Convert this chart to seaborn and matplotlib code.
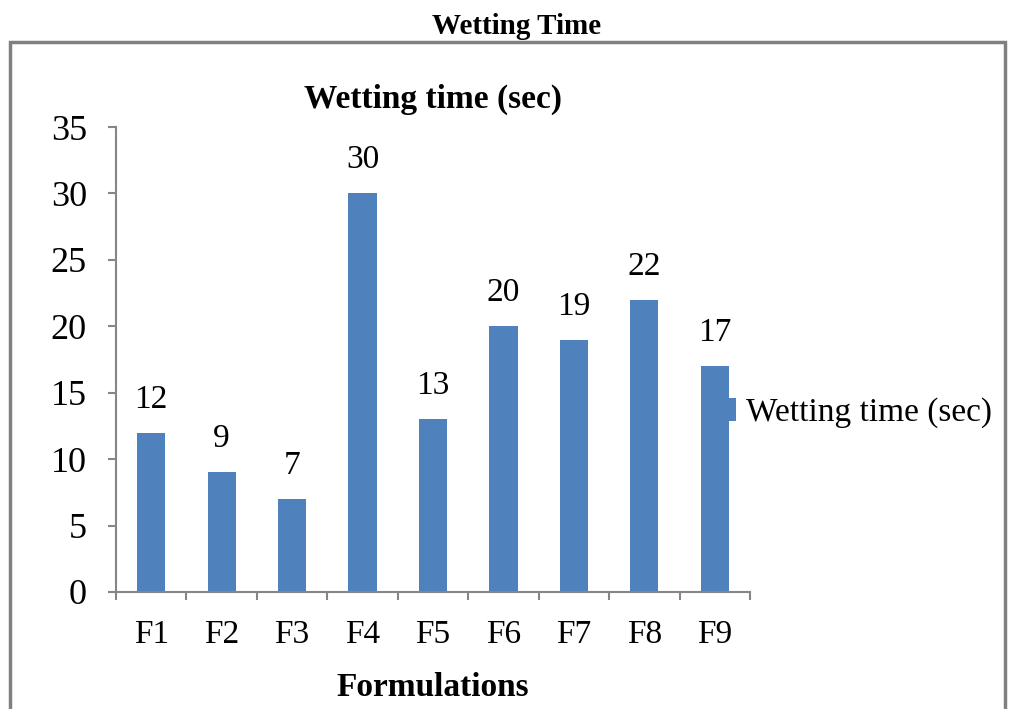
import matplotlib
matplotlib.use("Agg")
import matplotlib.pyplot as plt
from matplotlib.patches import Rectangle
import seaborn as sns

formulations = ["F1", "F2", "F3", "F4", "F5", "F6", "F7", "F8", "F9"]
wetting_time = [12, 9, 7, 30, 13, 20, 19, 22, 17]
y_ticks = [0, 5, 10, 15, 20, 25, 30, 35]

sns.set_theme(style="white")
plt.rcParams["font.family"] = ["Liberation Serif", "DejaVu Serif"]
plt.rcParams["text.color"] = "black"
plt.rcParams["axes.labelcolor"] = "black"
plt.rcParams["xtick.labelcolor"] = "black"
plt.rcParams["ytick.labelcolor"] = "black"

bar_color = "#4F81BD"
axis_color = "#868686"

fig = plt.figure(figsize=(10.10, 7.09), dpi=100)
fig.patch.set_facecolor("white")

# outer frame of the chart area
frame = Rectangle((10 / 1010, -0.2), 995 / 1010, 1.2 - 42 / 709,
                  transform=fig.transFigure, fill=False,
                  edgecolor="#808080", linewidth=2.5)
fig.patches.append(frame)

fig.text(517 / 1010, 1 - 27 / 709, "Wetting Time", ha="center", va="center",
         fontsize=21, fontweight="bold", color="black")

ax = fig.add_axes([116 / 1010, 117 / 709, 634 / 1010, 465 / 709])
sns.barplot(x=formulations, y=wetting_time, color=bar_color, width=0.4,
            saturation=1, linewidth=0, label="Wetting time (sec)", ax=ax)

ax.set_ylim(0, 35)
ax.set_xlim(-0.5, len(formulations) - 0.5)
ax.set_yticks(y_ticks)
ax.set_yticklabels([str(t) for t in y_ticks], fontsize=26, color="black")
ax.set_xticks(range(len(formulations)))
ax.set_xticklabels(formulations, fontsize=24, color="black")
ax.set_xticks([i - 0.5 for i in range(len(formulations) + 1)], minor=True)

ax.tick_params(axis="x", which="major", length=0, pad=20)
ax.tick_params(axis="x", which="minor", length=6, width=1.5, color=axis_color,
               direction="out", bottom=True)
ax.tick_params(axis="y", length=6, width=1.5, color=axis_color,
               direction="out", left=True, pad=15)

for side in ["top", "right"]:
    ax.spines[side].set_visible(False)
for side in ["left", "bottom"]:
    ax.spines[side].set_color(axis_color)
    ax.spines[side].set_linewidth(1.5)

for container in ax.containers:
    ax.bar_label(container, labels=[str(v) for v in wetting_time],
                 padding=13, fontsize=24, color="black")

ax.set_xlabel("Formulations", fontsize=24, fontweight="bold", labelpad=16,
              color="black")
ax.set_ylabel("")
ax.set_title("Wetting time (sec)", fontsize=24, fontweight="bold", pad=14,
             color="black")

leg = ax.legend(loc="center left", bbox_to_anchor=(726 / 1010, 1 - 413 / 709),
                bbox_transform=fig.transFigure, frameon=False, fontsize=24,
                handlelength=0.3, handleheight=0.7, handletextpad=0.3,
                borderpad=0, borderaxespad=0)
for handle in leg.legend_handles:
    handle.set_linewidth(0)
    handle.set_facecolor(bar_color)
for text in leg.get_texts():
    text.set_color("black")

fig.savefig("out.png", dpi=100, facecolor="white")
